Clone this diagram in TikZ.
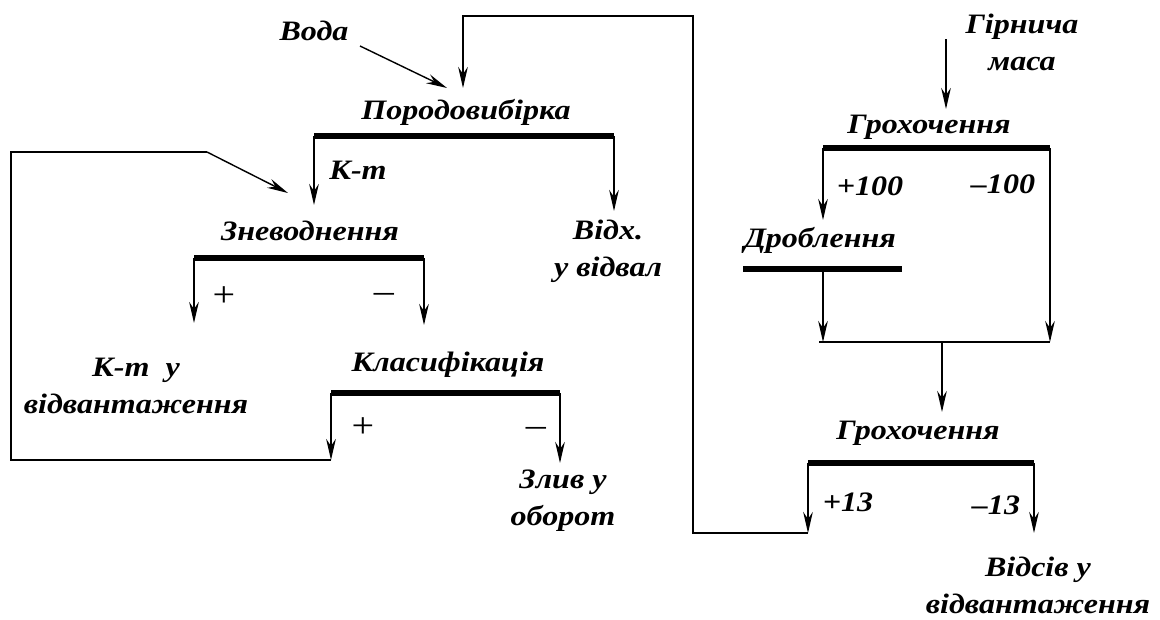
\documentclass[tikz,border=0pt]{standalone}
\usepackage{fontspec}
\setmainfont{Liberation Serif}[FakeStretch=1.14]
\usetikzlibrary{arrows.meta}

\begin{document}
\begin{tikzpicture}[x=0.02cm, y=-0.02cm, >={Stealth[length=12pt, width=5.5pt, inset=4pt]},
    fleche/.style={->, line width=0.8pt},
    trait/.style={line width=0.8pt},
    barre/.style={line width=3pt},
    etiq/.style={font=\fontsize{16}{21}\selectfont\bfseries\itshape, inner sep=0pt, align=center},
    signe/.style={font=\fontsize{20}{22}\selectfont, inner sep=0pt}]
    \useasboundingbox (0,0) rectangle (1160,619);

    % Вода et retour du +13
    \node[etiq] (voda) at (314,31) {Вода};
    \coordinate (vodaS) at (360,46);
    \coordinate (porIn) at (447,88);
    \draw[fleche] (vodaS) -- (porIn);

    % Породовибірка
    \node[etiq] (porod) at (466,112) {Породовибірка};
    \coordinate (porA) at (314,136);
    \coordinate (porB) at (614,136);
    \coordinate (porAbas) at (314,205);
    \coordinate (porBbas) at (614,211);
    \draw[barre] (porA) -- (porB);
    \draw[fleche] (porA) -- (porAbas);
    \draw[fleche] (porB) -- (porBbas);
    \node[etiq] (kt) at (358,170) {К-т};
    \node[etiq] (vidh) at (608,251) {Відх.\\у відвал};

    % Зневоднення
    \node[etiq] (znev) at (310,231) {Зневоднення};
    \coordinate (znA) at (194,258);
    \coordinate (znB) at (424,258);
    \coordinate (znAbas) at (194,323);
    \coordinate (znBbas) at (424,325);
    \coordinate (znIn) at (288,193);
    \draw[barre] (znA) -- (znB);
    \draw[fleche] (znA) -- (znAbas);
    \draw[fleche] (znB) -- (znBbas);
    \node[signe] (znPlus) at (224,297) {+};
    \node[signe] (znMoins) at (384,298) {–};
    \node[etiq] (ktvid) at (136,386) {К-т~~у\\відвантаження};

    % Класифікація
    \node[etiq] (klas) at (448,365) {Класифікація};
    \coordinate (klA) at (331,393);
    \coordinate (klB) at (560,393);
    \coordinate (klAbas) at (331,460);
    \coordinate (klBbas) at (560,463);
    \draw[barre] (klA) -- (klB);
    \draw[fleche] (klA) -- (klAbas);
    \draw[fleche] (klB) -- (klBbas);
    \node[signe] (klPlus) at (363,428) {+};
    \node[signe] (klMoins) at (536,432) {–};
    \node[etiq] (zliv) at (563,501) {Злив у\\оборот};

    % Retour du + vers Зневоднення
    \coordinate (bcl1) at (11,460);
    \coordinate (bcl2) at (11,152);
    \coordinate (bcl3) at (207,152);
    \draw[trait] (klAbas) -- (bcl1) -- (bcl2) -- (bcl3);
    \draw[fleche] (bcl3) -- (znIn);

    % Гірнича маса
    \node[etiq] (girn) at (1022,42) {Гірнича\\маса};
    \coordinate (girnS) at (946,39);
    \coordinate (gr1In) at (946,109);
    \draw[fleche] (girnS) -- (gr1In);

    % Грохочення 1
    \node[etiq] (groh1) at (929,127) {Грохочення};
    \coordinate (gr1A) at (823,148);
    \coordinate (gr1B) at (1050,148);
    \coordinate (gr1Abas) at (823,220);
    \coordinate (gr1Bbas) at (1050,342);
    \draw[barre] (gr1A) -- (gr1B);
    \draw[fleche] (gr1A) -- (gr1Abas);
    \draw[fleche] (gr1B) -- (gr1Bbas);
    \node[etiq] (plus100) at (870,186) {+100};
    \node[etiq] (moins100) at (1003,184) {–100};

    % Дроблення
    \node[etiq] (drob) at (820,240) {Дроблення};
    \coordinate (drA) at (743,269);
    \coordinate (drB) at (902,269);
    \coordinate (drSort) at (823,269);
    \coordinate (drBas) at (823,342);
    \draw[barre] (drA) -- (drB);
    \draw[fleche] (drSort) -- (drBas);

    % Réunion
    \coordinate (reuA) at (819,342);
    \coordinate (reuM) at (942,342);
    \coordinate (gr2In) at (942,412);
    \draw[trait] (reuA) -- (gr1Bbas);
    \draw[fleche] (reuM) -- (gr2In);

    % Грохочення 2
    \node[etiq] (groh2) at (918,433) {Грохочення};
    \coordinate (gr2A) at (808,463);
    \coordinate (gr2B) at (1034,463);
    \coordinate (gr2Abas) at (808,533);
    \coordinate (gr2Bbas) at (1034,533);
    \draw[barre] (gr2A) -- (gr2B);
    \draw[fleche] (gr2A) -- (gr2Abas);
    \draw[fleche] (gr2B) -- (gr2Bbas);
    \node[etiq] (plus13) at (848,502) {+13};
    \node[etiq] (moins13) at (996,505) {–13};
    \node[etiq] (vidsiv) at (1038,585) {Відсів у\\відвантаження};

    % Retour du +13 vers Породовибірка
    \coordinate (ret1) at (693,533);
    \coordinate (ret2) at (693,16);
    \coordinate (ret3) at (463,16);
    \coordinate (porIn2) at (463,88);
    \draw[fleche] (gr2Abas) -- (ret1) -- (ret2) -- (ret3) -- (porIn2);
\end{tikzpicture}
\end{document}
